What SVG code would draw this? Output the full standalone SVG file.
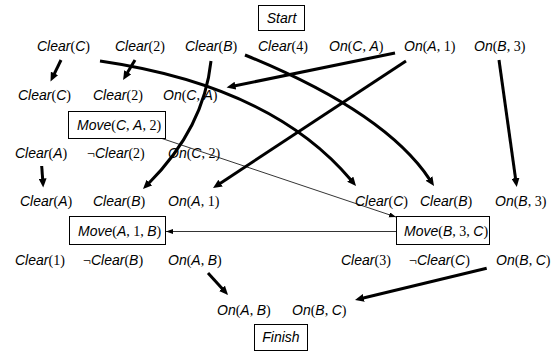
<svg xmlns="http://www.w3.org/2000/svg" width="560" height="351" viewBox="0 0 560 351">
<style>
text{font-family:"Liberation Sans",Arial,sans-serif;font-style:italic;font-size:14px;fill:#000}
.s{font-family:"Liberation Serif","Times New Roman",serif;font-style:normal}
.box{fill:#fff;stroke:#000;stroke-width:1}
.thick{fill:none;stroke:#000;stroke-width:3}
.thin{fill:none;stroke:#000;stroke-width:0.8}
</style>
<defs>
<marker id="ah" markerUnits="userSpaceOnUse" markerWidth="10" markerHeight="8" refX="1.5" refY="4" orient="auto"><path d="M0,0 L9,4 L0,8 z" fill="#000"/></marker>
<marker id="as" markerUnits="userSpaceOnUse" markerWidth="8" markerHeight="6" refX="7" refY="2.5" orient="auto"><path d="M0,0 L7,2.5 L0,5 z" fill="#000"/></marker>
</defs>
<g id="connectors">
<path class="thick" marker-end="url(#ah)" d="M61,60 L53.8,74.8"/>
<path class="thick" marker-end="url(#ah)" d="M135,60 L126.9,73.6"/>
<path class="thick" marker-end="url(#ah)" d="M100,61 Q272,86 351.2,180.3"/>
<path class="thick" marker-end="url(#ah)" d="M211,61 Q204,128 148.3,183.7"/>
<path class="thick" marker-end="url(#ah)" d="M245,55 Q385,112 429.9,179.8"/>
<path class="thick" marker-end="url(#ah)" d="M499,60 L515.7,179.6"/>
<path class="thick" marker-end="url(#ah)" d="M41.7,166 L42.7,180"/>
<path class="thick" marker-end="url(#ah)" d="M395,53 L233.9,86"/>
<path class="thick" marker-end="url(#ah)" d="M406,61 L219.3,183.9"/>
<path class="thick" marker-end="url(#ah)" d="M208,273 L223,289.5"/>
<path class="thick" marker-end="url(#ah)" d="M486.7,268.3 L362.3,298.2"/>
<path class="thin" marker-end="url(#as)" d="M162,138.5 L396,217"/>
<path class="thin" marker-end="url(#as)" d="M396,231.5 L166,231.5"/>
</g>
<g id="start"><rect class="box" x="258.5" y="5.5" width="46" height="25"/><text x="281.5" y="23" text-anchor="middle">Start</text></g>
<g id="finish"><rect class="box" x="254.5" y="324.5" width="53" height="26"/><text x="281" y="342" text-anchor="middle">Finish</text></g>
<g id="move-c-a-2"><rect class="box" x="68.5" y="111.5" width="97" height="27"/><text x="77" y="130">Move<tspan class="s">(</tspan>C<tspan class="s">, </tspan>A<tspan class="s">, 2)</tspan></text></g>
<g id="move-a-1-b"><rect class="box" x="69.5" y="216.5" width="96" height="28"/><text x="78" y="236">Move<tspan class="s">(</tspan>A<tspan class="s">, 1, </tspan>B<tspan class="s">)</tspan></text></g>
<g id="move-b-3-c"><rect class="box" x="396.5" y="216.5" width="93" height="28"/><text x="404" y="236">Move<tspan class="s">(</tspan>B<tspan class="s">, 3, </tspan>C<tspan class="s">)</tspan></text></g>
<g id="row1">
<text x="37" y="51">Clear<tspan class="s">(</tspan>C<tspan class="s">)</tspan></text>
<text x="115" y="51">Clear<tspan class="s">(2)</tspan></text>
<text x="185" y="51">Clear<tspan class="s">(</tspan>B<tspan class="s">)</tspan></text>
<text x="258" y="51">Clear<tspan class="s">(4)</tspan></text>
<text x="329" y="51">On<tspan class="s">(</tspan>C<tspan class="s">, </tspan>A<tspan class="s">)</tspan></text>
<text x="404" y="51">On<tspan class="s">(</tspan>A<tspan class="s">, 1)</tspan></text>
<text x="474" y="51">On<tspan class="s">(</tspan>B<tspan class="s">, 3)</tspan></text>
</g>
<g id="row2">
<text x="18" y="100">Clear<tspan class="s">(</tspan>C<tspan class="s">)</tspan></text>
<text x="93" y="100">Clear<tspan class="s">(2)</tspan></text>
<text x="163" y="100">On<tspan class="s">(</tspan>C<tspan class="s">, </tspan>A<tspan class="s">)</tspan></text>
</g>
<g id="row3">
<text x="15" y="158">Clear<tspan class="s">(</tspan>A<tspan class="s">)</tspan></text>
<text x="87" y="158"><tspan class="s">¬</tspan>Clear<tspan class="s">(2)</tspan></text>
<text x="168" y="158">On<tspan class="s">(</tspan>C<tspan class="s">, 2)</tspan></text>
</g>
<g id="row4">
<text x="20" y="206">Clear<tspan class="s">(</tspan>A<tspan class="s">)</tspan></text>
<text x="93" y="206">Clear<tspan class="s">(</tspan>B<tspan class="s">)</tspan></text>
<text x="168" y="206">On<tspan class="s">(</tspan>A<tspan class="s">, 1)</tspan></text>
<text x="355" y="206">Clear<tspan class="s">(</tspan>C<tspan class="s">)</tspan></text>
<text x="420" y="206">Clear<tspan class="s">(</tspan>B<tspan class="s">)</tspan></text>
<text x="495" y="206">On<tspan class="s">(</tspan>B<tspan class="s">, 3)</tspan></text>
</g>
<g id="row5">
<text x="15" y="265">Clear<tspan class="s">(1)</tspan></text>
<text x="83" y="265"><tspan class="s">¬</tspan>Clear<tspan class="s">(</tspan>B<tspan class="s">)</tspan></text>
<text x="168" y="265">On<tspan class="s">(</tspan>A<tspan class="s">, </tspan>B<tspan class="s">)</tspan></text>
<text x="341" y="265">Clear<tspan class="s">(3)</tspan></text>
<text x="409" y="265"><tspan class="s">¬</tspan>Clear<tspan class="s">(</tspan>C<tspan class="s">)</tspan></text>
<text x="496" y="265">On<tspan class="s">(</tspan>B<tspan class="s">, </tspan>C<tspan class="s">)</tspan></text>
</g>
<g id="row6">
<text x="217" y="315">On<tspan class="s">(</tspan>A<tspan class="s">, </tspan>B<tspan class="s">)</tspan></text>
<text x="292" y="315">On<tspan class="s">(</tspan>B<tspan class="s">, </tspan>C<tspan class="s">)</tspan></text>
</g>
</svg>
